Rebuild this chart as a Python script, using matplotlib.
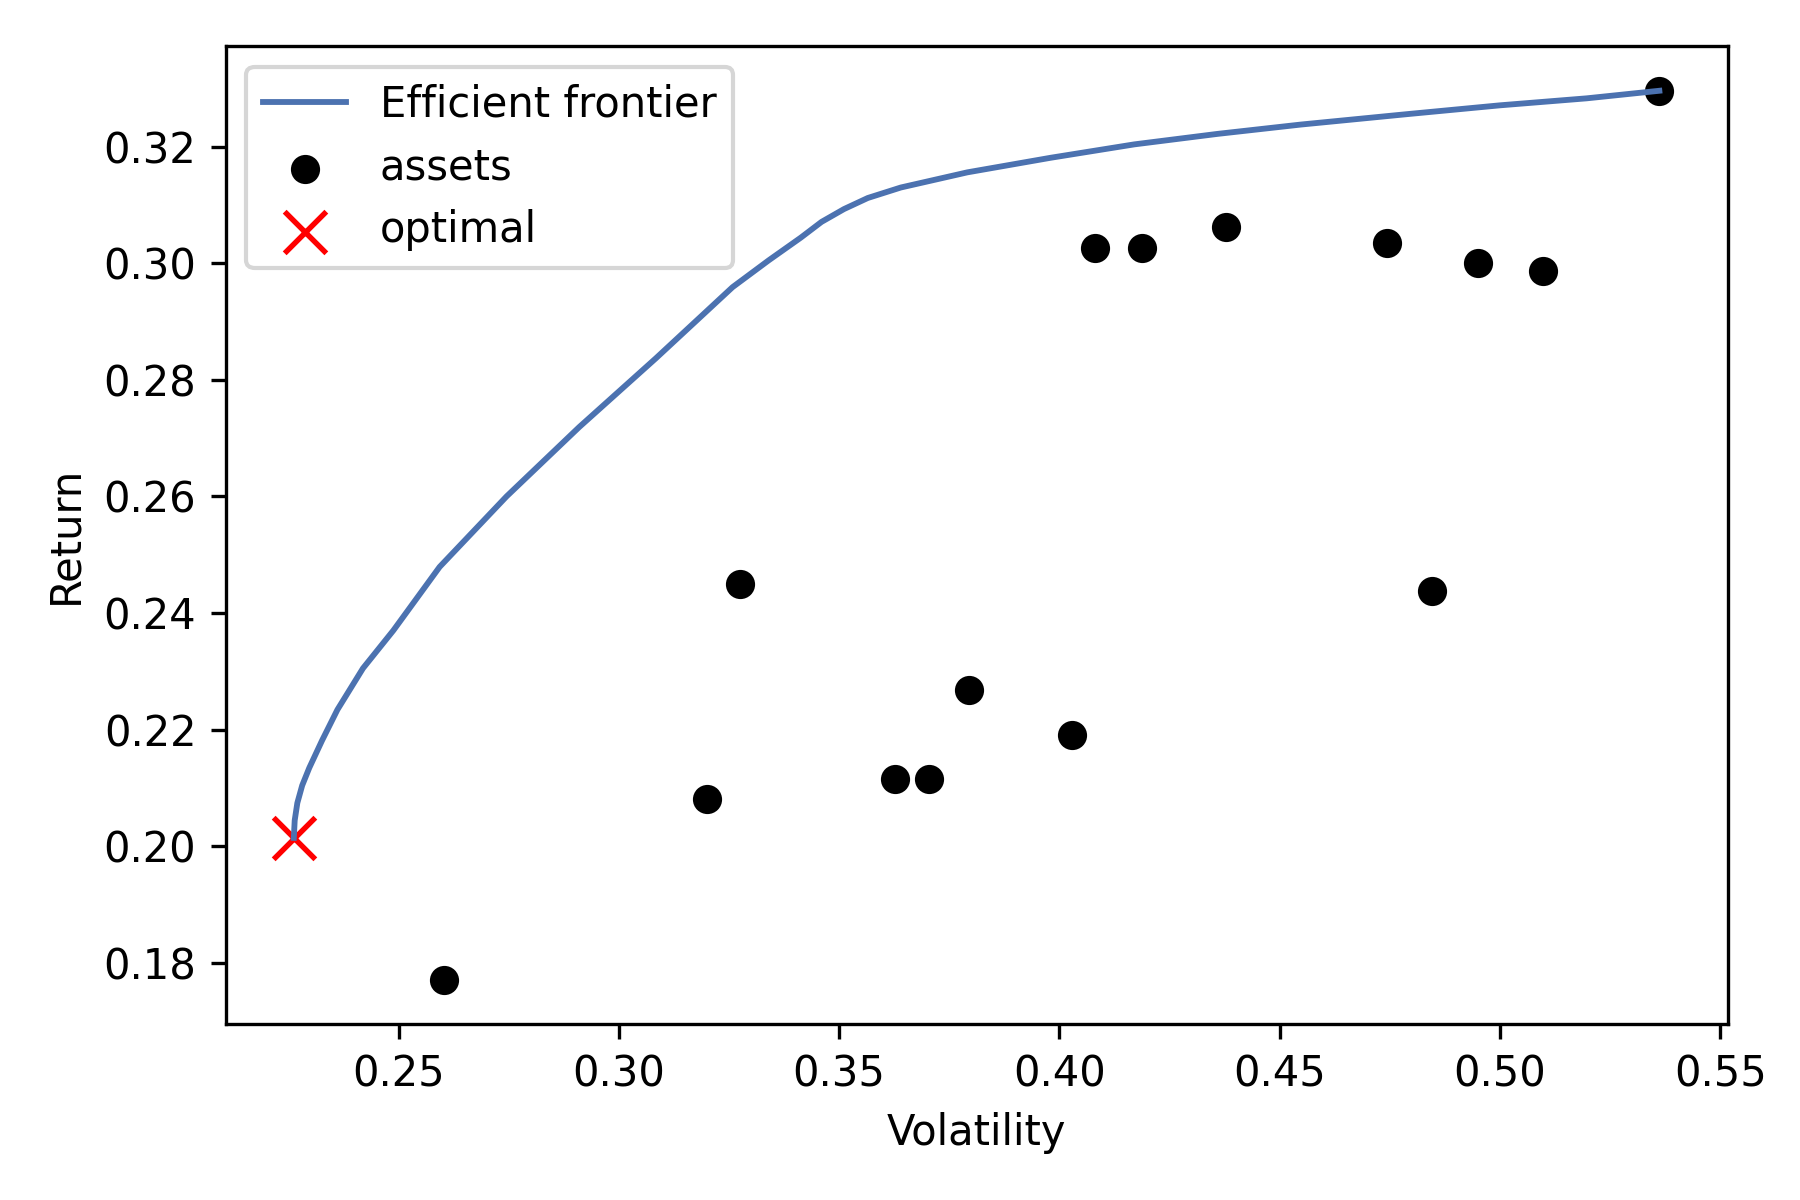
import matplotlib
matplotlib.use("Agg")
import matplotlib.pyplot as plt

# efficient frontier
frontier_vol = [0.2262, 0.2264, 0.2270, 0.2281, 0.2297, 0.2326, 0.2361, 0.2419,
                0.2488, 0.2593, 0.2745, 0.2910, 0.3084, 0.3258, 0.3340, 0.3413,
                0.3460, 0.3511, 0.3565, 0.3640, 0.3791, 0.3980, 0.4170, 0.4359,
                0.4548, 0.4791, 0.5000, 0.5197, 0.5362]
frontier_ret = [0.2014, 0.2044, 0.2074, 0.2104, 0.2134, 0.2181, 0.2234, 0.2305,
                0.2370, 0.2479, 0.2600, 0.2719, 0.2837, 0.2959, 0.3005, 0.3044,
                0.3071, 0.3093, 0.3112, 0.3130, 0.3156, 0.3181, 0.3204, 0.3222,
                0.3238, 0.3256, 0.3271, 0.3283, 0.3296]

# individual assets
asset_vol = [0.2602, 0.3200, 0.3275, 0.3627, 0.3703, 0.3795, 0.4028, 0.4080,
             0.4188, 0.4378, 0.4743, 0.4845, 0.4950, 0.5097, 0.5362]
asset_ret = [0.1771, 0.2081, 0.2449, 0.2115, 0.2115, 0.2268, 0.2191, 0.3027,
             0.3027, 0.3062, 0.3035, 0.2437, 0.3001, 0.2987, 0.3296]

# optimal portfolio
opt_vol = [0.2262]
opt_ret = [0.2014]

fig, ax = plt.subplots(figsize=(6, 4), dpi=300)
fig.subplots_adjust(left=0.1253, right=0.9598, top=0.9614, bottom=0.1467)

ax.plot(frontier_vol, frontier_ret, color="#4c72b0", lw=1.4, label="Efficient frontier")
ax.scatter(asset_vol, asset_ret, s=36, color="black", label="assets")
ax.scatter(opt_vol, opt_ret, marker="x", s=100, color="red", lw=1.3, label="optimal")

ax.set_xlabel("Volatility")
ax.set_ylabel("Return")
ax.legend(loc="upper left")

plt.savefig("out.png", dpi=300)
